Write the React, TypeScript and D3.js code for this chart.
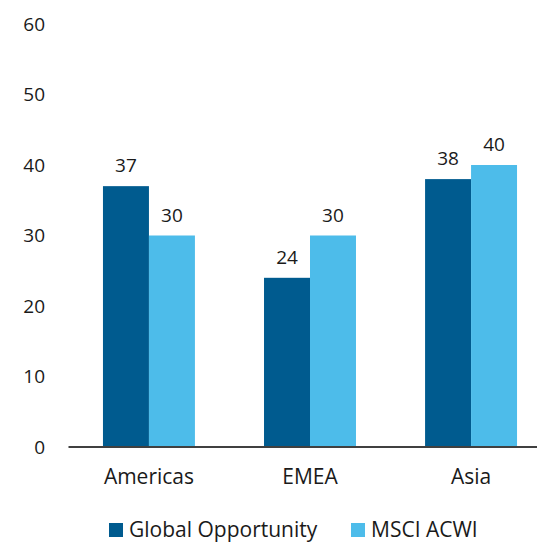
import * as d3 from "d3";
import { useEffect, useRef } from "react";

const categories = ["Americas", "EMEA", "Asia"];
const seriesNames = ["Global Opportunity", "MSCI ACWI"];
const globalOpportunity = [37, 24, 38];
const msciAcwi = [30, 30, 40];
const yTicks = [0, 10, 20, 30, 40, 50, 60];

const colors = ["#005B8F", "#4DBCEA"];
const font = "'Open Sans', sans-serif";

export default function App() {
  const ref = useRef<SVGSVGElement>(null);
  const width = 537;
  const height = 542;

  useEffect(() => {
    if (!ref.current) return;
    const svg = d3.select(ref.current);
    svg.selectAll("*").remove();

    const x = d3
      .scaleBand<string>()
      .domain(categories)
      .range([68.5, 551.5])
      .paddingInner(0.429)
      .paddingOuter(0.214);

    const xSub = d3
      .scaleBand<string>()
      .domain(seriesNames)
      .range([0, x.bandwidth()]);

    const y = d3.scaleLinear().domain([0, 60]).range([447, 24]);

    // y tick labels
    svg
      .append("g")
      .selectAll("text")
      .data(yTicks)
      .enter()
      .append("text")
      .attr("x", 45)
      .attr("y", (d) => y(d))
      .attr("dy", "0.35em")
      .attr("text-anchor", "end")
      .attr("font-family", font)
      .attr("font-size", 19)
      .attr("fill", "#1a1a1a")
      .text((d) => d);

    const rows = categories.map((c, i) => ({
      category: c,
      values: [globalOpportunity[i], msciAcwi[i]],
    }));

    const groups = svg
      .append("g")
      .selectAll("g")
      .data(rows)
      .enter()
      .append("g")
      .attr("transform", (d) => `translate(${x(d.category)},0)`);

    groups
      .selectAll("rect")
      .data((d) => d.values.map((v, j) => ({ name: seriesNames[j], v, j })))
      .enter()
      .append("rect")
      .attr("x", (d) => xSub(d.name)!)
      .attr("y", (d) => y(d.v))
      .attr("width", xSub.bandwidth())
      .attr("height", (d) => y(0) - y(d.v))
      .attr("fill", (d) => colors[d.j]);

    groups
      .selectAll("text")
      .data((d) => d.values.map((v, j) => ({ name: seriesNames[j], v })))
      .enter()
      .append("text")
      .attr("x", (d) => xSub(d.name)! + xSub.bandwidth() / 2)
      .attr("y", (d) => y(d.v) - 14)
      .attr("text-anchor", "middle")
      .attr("font-family", font)
      .attr("font-size", 19)
      .attr("fill", "#1a1a1a")
      .text((d) => d.v);

    // x axis baseline
    svg
      .append("line")
      .attr("x1", 68.5)
      .attr("x2", 551.5)
      .attr("y1", y(0))
      .attr("y2", y(0))
      .attr("stroke", "#404040")
      .attr("stroke-width", 2);

    svg
      .append("g")
      .selectAll("text")
      .data(categories)
      .enter()
      .append("text")
      .attr("x", (d) => x(d)! + x.bandwidth() / 2)
      .attr("y", 484)
      .attr("text-anchor", "middle")
      .attr("font-family", font)
      .attr("font-size", 21)
      .attr("fill", "#1a1a1a")
      .text((d) => d);

    // legend
    const legendX = [109, 351];
    const legend = svg
      .append("g")
      .selectAll("g")
      .data(seriesNames)
      .enter()
      .append("g")
      .attr("transform", (_, i) => `translate(${legendX[i]},523)`);

    legend
      .append("rect")
      .attr("width", 14)
      .attr("height", 14)
      .attr("fill", (_, i) => colors[i]);

    legend
      .append("text")
      .attr("x", 20)
      .attr("y", 14)
      .attr("font-family", font)
      .attr("font-size", 21)
      .attr("fill", "#1a1a1a")
      .text((d) => d);
  }, []);

  return (
    <svg
      ref={ref}
      width={width}
      height={height}
      style={{ position: "absolute", left: 0, top: 0, background: "#fff" }}
    />
  );
}
